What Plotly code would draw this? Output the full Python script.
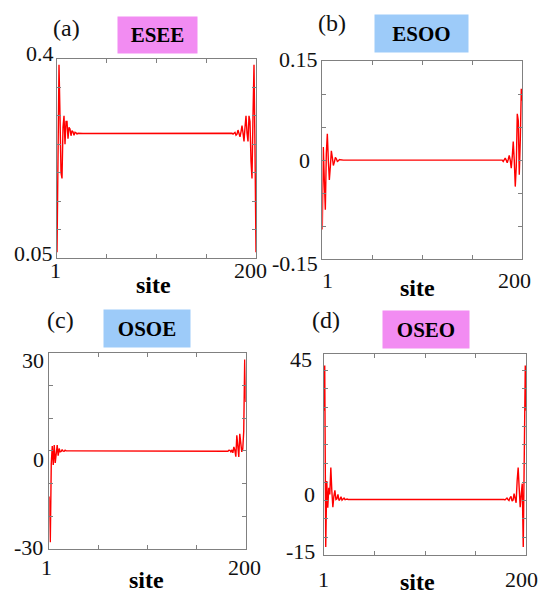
import plotly.graph_objects as go

# ---------------- data ----------------
site_labels = ["1", "200"]
panel_letters = ["(a)", "(b)", "(c)", "(d)"]
panel_names = ["ESEE", "ESOO", "OSOE", "OSEO"]
y_tick_labels = [["0.4", "0.05"], ["0.15", "0", "-0.15"], ["30", "0", "-30"], ["45", "0", "-15"]]
x_title = "site"

esee = [
    0.06, 0.25, 0.39, 0.30, 0.20, 0.19, 0.28, 0.30, 0.25, 0.29,
    0.29, 0.26, 0.28, 0.277, 0.265, 0.274, 0.272, 0.266, 0.271, 0.270,
    0.268, 0.2695, 0.2692, 0.2688, 0.269,
    0.269, 0.269, 0.269, 0.269, 0.269, 0.269, 0.269, 0.269, 0.269, 0.269, 0.269, 0.269, 0.269, 0.269, 0.269, 0.269, 0.269, 0.269, 0.269, 0.269, 0.269, 0.269, 0.269, 0.269, 0.269,
    0.269, 0.269, 0.269, 0.269, 0.269, 0.269, 0.269, 0.269, 0.269, 0.269, 0.269, 0.269, 0.269, 0.269, 0.269, 0.269, 0.269, 0.269, 0.269, 0.269, 0.269, 0.269, 0.269, 0.269, 0.269,
    0.269, 0.269, 0.269, 0.269, 0.269, 0.269, 0.269, 0.269, 0.269, 0.269, 0.269, 0.269, 0.269, 0.269, 0.269, 0.269, 0.269, 0.269, 0.269, 0.269, 0.269, 0.269, 0.269, 0.269, 0.269,
    0.269, 0.269, 0.269, 0.269, 0.269, 0.269, 0.269, 0.269, 0.269, 0.269, 0.269, 0.269, 0.269, 0.269, 0.269, 0.269, 0.269, 0.269, 0.269, 0.269, 0.269, 0.269, 0.269, 0.269, 0.269,
    0.269, 0.269, 0.269, 0.269, 0.269, 0.269, 0.269, 0.269, 0.269, 0.269, 0.269, 0.269, 0.269, 0.269, 0.269, 0.269, 0.269, 0.269, 0.269, 0.269, 0.269, 0.269, 0.269, 0.269, 0.269,
    0.269, 0.269, 0.269, 0.269, 0.269, 0.269, 0.269, 0.269, 0.269, 0.269, 0.269, 0.269, 0.269, 0.269, 0.269, 0.269, 0.269, 0.269, 0.269, 0.269, 0.269, 0.269, 0.269, 0.269, 0.269,
    0.2695, 0.268, 0.27, 0.271, 0.266, 0.268, 0.275, 0.270, 0.263, 0.272,
    0.283, 0.27, 0.255, 0.28, 0.30, 0.27, 0.255, 0.30, 0.29, 0.22,
    0.19, 0.30, 0.39, 0.24, 0.06,
]

esoo = [
    -0.105, 0.02, -0.03, -0.075, 0.01, 0.04, 0.0, -0.03, -0.01, 0.014,
    0.004, -0.008, -0.003, 0.004, 0.002, -0.002, -0.001, 0.001, 0.0005, 0.0,
    0.0, 0.0, 0.0, 0.0, 0.0,
    0.0, 0.0, 0.0, 0.0, 0.0, 0.0, 0.0, 0.0, 0.0, 0.0, 0.0, 0.0, 0.0, 0.0, 0.0, 0.0, 0.0, 0.0, 0.0, 0.0, 0.0, 0.0, 0.0, 0.0, 0.0,
    0.0, 0.0, 0.0, 0.0, 0.0, 0.0, 0.0, 0.0, 0.0, 0.0, 0.0, 0.0, 0.0, 0.0, 0.0, 0.0, 0.0, 0.0, 0.0, 0.0, 0.0, 0.0, 0.0, 0.0, 0.0,
    0.0, 0.0, 0.0, 0.0, 0.0, 0.0, 0.0, 0.0, 0.0, 0.0, 0.0, 0.0, 0.0, 0.0, 0.0, 0.0, 0.0, 0.0, 0.0, 0.0, 0.0, 0.0, 0.0, 0.0, 0.0,
    0.0, 0.0, 0.0, 0.0, 0.0, 0.0, 0.0, 0.0, 0.0, 0.0, 0.0, 0.0, 0.0, 0.0, 0.0, 0.0, 0.0, 0.0, 0.0, 0.0, 0.0, 0.0, 0.0, 0.0, 0.0,
    0.0, 0.0, 0.0, 0.0, 0.0, 0.0, 0.0, 0.0, 0.0, 0.0, 0.0, 0.0, 0.0, 0.0, 0.0, 0.0, 0.0, 0.0, 0.0, 0.0, 0.0, 0.0, 0.0, 0.0, 0.0,
    0.0, 0.0, 0.0, 0.0, 0.0, 0.0, 0.0, 0.0, 0.0, 0.0, 0.0, 0.0, 0.0, 0.0, 0.0, 0.0, 0.0, 0.0, 0.0, 0.0, 0.0, 0.0, 0.0, 0.0, 0.0,
    0.0, 0.0, 0.0, 0.001, 0.0, -0.002, 0.0, 0.003, 0.0, -0.004,
    0.001, 0.007, 0.0, -0.012, 0.005, 0.028, 0.0, -0.04, -0.01, 0.07,
    0.06, -0.022, 0.03, 0.108, 0.09,
]

osoe = [
    -14.0, -28.0, -4.0, 1.5, -4.3, 1.8, -3.7, 0.6, 1.8, -1.5,
    0.7, -0.3, -0.2, 0.4, -0.1, -0.15, 0.2, 0.0, -0.05, 0.08,
    0.02, 0.0, 0.0, 0.0, 0.0,
    0.0, 0.0, 0.0, 0.0, 0.0, 0.0, 0.0, 0.0, 0.0, 0.0, 0.0, 0.0, 0.0, 0.0, 0.0, 0.0, 0.0, 0.0, 0.0, 0.0, 0.0, 0.0, 0.0, 0.0, 0.0,
    0.0, 0.0, 0.0, 0.0, 0.0, 0.0, 0.0, 0.0, 0.0, 0.0, 0.0, 0.0, 0.0, 0.0, 0.0, 0.0, 0.0, 0.0, 0.0, 0.0, 0.0, 0.0, 0.0, 0.0, 0.0,
    0.0, 0.0, 0.0, 0.0, 0.0, 0.0, 0.0, 0.0, 0.0, 0.0, 0.0, 0.0, 0.0, 0.0, 0.0, 0.0, 0.0, 0.0, 0.0, 0.0, 0.0, 0.0, 0.0, 0.0, 0.0,
    0.0, 0.0, 0.0, 0.0, 0.0, 0.0, 0.0, 0.0, 0.0, 0.0, 0.0, 0.0, 0.0, 0.0, 0.0, 0.0, 0.0, 0.0, 0.0, 0.0, 0.0, 0.0, 0.0, 0.0, 0.0,
    0.0, 0.0, 0.0, 0.0, 0.0, 0.0, 0.0, 0.0, 0.0, 0.0, 0.0, 0.0, 0.0, 0.0, 0.0, 0.0, 0.0, 0.0, 0.0, 0.0, 0.0, 0.0, 0.0, 0.0, 0.0,
    0.0, 0.0, 0.0, 0.0, 0.0, 0.0, 0.0, 0.0, 0.0, 0.0, 0.0, 0.0, 0.0, 0.0, 0.0, 0.0, 0.0, 0.0, 0.0, 0.0, 0.0, 0.0, 0.0, 0.0, 0.0,
    0.0, 0.02, 0.05, -0.03, 0.1, 0.08, -0.1, 0.2, 0.15, -0.3,
    0.3, -0.6, 1.2, 0.2, -1.8, 4.8, 1.0, -1.9, 5.2, 2.0,
    -0.3, 0.5, 6.0, 28.0, 15.0,
]

oseo = [
    28.0, 41.5, -12.7, 7.0, -1.0, 5.0, 3.0, 11.0, 4.0, -0.8,
    2.5, 4.2, 1.5, 1.7, 3.0, 1.2, 1.5, 2.3, 1.3, 1.6,
    1.9, 1.45, 1.55, 1.6, 1.5,
    1.5, 1.5, 1.5, 1.5, 1.5, 1.5, 1.5, 1.5, 1.5, 1.5, 1.5, 1.5, 1.5, 1.5, 1.5, 1.5, 1.5, 1.5, 1.5, 1.5, 1.5, 1.5, 1.5, 1.5, 1.5,
    1.5, 1.5, 1.5, 1.5, 1.5, 1.5, 1.5, 1.5, 1.5, 1.5, 1.5, 1.5, 1.5, 1.5, 1.5, 1.5, 1.5, 1.5, 1.5, 1.5, 1.5, 1.5, 1.5, 1.5, 1.5,
    1.5, 1.5, 1.5, 1.5, 1.5, 1.5, 1.5, 1.5, 1.5, 1.5, 1.5, 1.5, 1.5, 1.5, 1.5, 1.5, 1.5, 1.5, 1.5, 1.5, 1.5, 1.5, 1.5, 1.5, 1.5,
    1.5, 1.5, 1.5, 1.5, 1.5, 1.5, 1.5, 1.5, 1.5, 1.5, 1.5, 1.5, 1.5, 1.5, 1.5, 1.5, 1.5, 1.5, 1.5, 1.5, 1.5, 1.5, 1.5, 1.5, 1.5,
    1.5, 1.5, 1.5, 1.5, 1.5, 1.5, 1.5, 1.5, 1.5, 1.5, 1.5, 1.5, 1.5, 1.5, 1.5, 1.5, 1.5, 1.5, 1.5, 1.5, 1.5, 1.5, 1.5, 1.5, 1.5,
    1.5, 1.5, 1.5, 1.5, 1.5, 1.5, 1.5, 1.5, 1.5, 1.5, 1.5, 1.5, 1.5, 1.5, 1.5, 1.5, 1.5, 1.5, 1.5, 1.5, 1.5, 1.5, 1.5, 1.5, 1.5,
    1.5, 1.6, 1.5, 1.35, 1.6, 1.9, 1.5, 1.2, 2.0, 2.4,
    1.0, 1.3, 3.2, 2.0, 0.5, 7.0, 11.0, 5.0, -0.8, 3.0,
    6.2, -12.7, 15.0, 41.5, 28.0,
]

series = [esee, esoo, osoe, oseo]
y_ranges = [[0.05, 0.4], [-0.15, 0.15], [-30, 30], [-15, 45]]
y_ticks = [
    [0.05, 0.1, 0.15, 0.2, 0.25, 0.3, 0.35, 0.4],
    [-0.15, -0.1, -0.05, 0.0, 0.05, 0.1, 0.15],
    [-30, -20, -10, 0, 10, 20, 30],
    [-9.8, -4.3, 1.1, 6.7, 12.3, 17.8, 23.4, 29.0, 34.5, 40.1],
]

# ---------------- layout (pixels) ----------------
W, H = 546, 594
FONT = "Liberation Serif"
box_colors = ["#F28CF2", "#9DCBF9", "#9DCBF9", "#F28CF2"]

# plot frame: left, right, top, bottom
frames = [(57, 256, 59, 258), (322.3, 522.3, 61, 259.3),
          (49.3, 245.7, 353, 548.7), (323.7, 526.3, 353.7, 554.7)]
# y tick-label centres (top, [zero], bottom)
ylab_pos = [[(40, 53.3), (33.5, 253)],
            [(298, 60), (304.7, 160), (294.7, 263.3)],
            [(32.5, 360.3), (38.3, 459.5), (28.3, 547.8)],
            [(301.3, 359.5), (309.7, 494.5), (300.5, 551)]]
xlab_pos = [[(55.8, 270.7), (250, 270.7)],
            [(327, 280), (514.7, 280)],
            [(46.7, 567.8), (244.2, 567.8)],
            [(323.8, 579.5), (521.3, 579.5)]]
site_pos = [(153.3, 284.5), (418, 288), (146.7, 580.3), (417.2, 581.5)]
letter_pos = [(66.7, 28.3), (332.2, 23.3), (60, 319.5), (325.5, 319.5)]
box_geom = [(157.5, 34.7, 79, 36), (421, 33.7, 93, 37),
            (147.2, 328.7, 86, 37), (426, 329, 86, 37)]

TICK_SIZE = 22
SITE_SIZE = 24
LETTER_SIZE = 24
BOX_SIZE = 21


def px(x):
    return x / W


def py(y):
    return 1 - y / H


fig = go.Figure()
annotations = []
axis_style = dict(showline=True, linecolor="#808080", linewidth=1, mirror="ticks",
                  ticks="inside", ticklen=4, tickcolor="#808080", tickwidth=1,
                  showgrid=False, zeroline=False, showticklabels=False, fixedrange=True)

for i in range(4):
    n = i + 1
    xa = "x" if n == 1 else f"x{n}"
    ya = "y" if n == 1 else f"y{n}"
    ys = series[i]
    xs = list(range(1, len(ys) + 1))
    fig.add_trace(go.Scatter(x=xs, y=ys, mode="lines", xaxis=xa, yaxis=ya,
                             line=dict(color="#FF0000", width=1.4), showlegend=False,
                             hoverinfo="skip"))
    l, r, t, b = frames[i]
    xkey = "xaxis" if n == 1 else f"xaxis{n}"
    ykey = "yaxis" if n == 1 else f"yaxis{n}"
    fig.update_layout(**{
        xkey: dict(domain=[px(l), px(r)], range=[1, len(ys)], anchor=ya,
                   tickvals=[1, 50.75, 100.5, 150.25, 200], **axis_style),
        ykey: dict(domain=[py(b), py(t)], range=y_ranges[i], anchor=xa,
                   tickvals=y_ticks[i], **axis_style),
    })
    for txt, (cx, cy) in zip(y_tick_labels[i], ylab_pos[i]):
        annotations.append(dict(text=txt, x=px(cx), y=py(cy), xref="paper", yref="paper",
                                xanchor="center", yanchor="middle", showarrow=False,
                                font=dict(family=FONT, size=TICK_SIZE, color="#111111")))
    for txt, (cx, cy) in zip(site_labels, xlab_pos[i]):
        annotations.append(dict(text=txt, x=px(cx), y=py(cy), xref="paper", yref="paper",
                                xanchor="center", yanchor="middle", showarrow=False,
                                font=dict(family=FONT, size=TICK_SIZE, color="#111111")))
    sx, sy = site_pos[i]
    annotations.append(dict(text=f"<b>{x_title}</b>", x=px(sx), y=py(sy), xref="paper",
                            yref="paper", xanchor="center", yanchor="middle", showarrow=False,
                            font=dict(family=FONT, size=SITE_SIZE, color="#000000")))
    lx, ly = letter_pos[i]
    annotations.append(dict(text=panel_letters[i], x=px(lx), y=py(ly), xref="paper",
                            yref="paper", xanchor="center", yanchor="middle", showarrow=False,
                            font=dict(family=FONT, size=LETTER_SIZE, color="#111111")))
    bx, by, bw, bh = box_geom[i]
    annotations.append(dict(text=f"<b>{panel_names[i]}</b>", x=px(bx), y=py(by),
                            xref="paper", yref="paper", xanchor="center", yanchor="middle",
                            showarrow=False, width=bw, height=bh, borderpad=0,
                            bgcolor=box_colors[i], align="center", valign="middle",
                            font=dict(family=FONT, size=BOX_SIZE, color="#000000")))

fig.update_layout(width=W, height=H, margin=dict(l=0, r=0, t=0, b=0),
                  paper_bgcolor="white", plot_bgcolor="white",
                  annotations=annotations, showlegend=False)

fig.write_html("out.html", config={"displayModeBar": False},
               post_script="document.body.style.margin='0px';document.body.style.overflow='hidden';")
